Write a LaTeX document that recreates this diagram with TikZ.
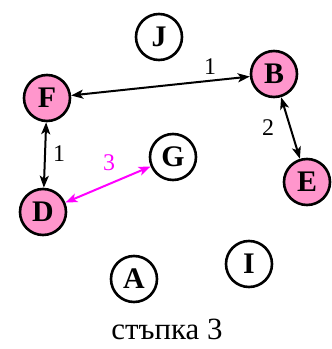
\documentclass[tikz,border=0pt]{standalone}
\usepackage{fontspec}
\setmainfont{Liberation Serif}
\usetikzlibrary{arrows.meta}
\definecolor{nodepink}{RGB}{255,150,204}
\definecolor{magentaedge}{RGB}{255,0,255}
\tikzset{
  vertex/.style={circle, draw=black, line width=2.6bp, minimum size=46bp, inner sep=0pt,
    font=\fontsize{30}{30}\selectfont\bfseries},
  visited/.style={vertex, fill=nodepink},
  link/.style={line width=2bp, {Stealth[length=12bp,width=9bp,inset=3bp]}-{Stealth[length=12bp,width=9bp,inset=3bp]}},
  wlabel/.style={font=\fontsize{24}{24}\selectfont, inner sep=1bp},
}
\begin{document}
\begin{tikzpicture}[x=1bp,y=-1bp]
  \useasboundingbox (0,0) rectangle (332,349);
  % vertices
  \node[vertex]  (J) at (159,37) {J};
  \node[visited] (F) at (47,98) {F};
  \node[visited] (B) at (274,74) {B};
  \node[vertex]  (G) at (173,157) {G};
  \node[visited] (E) at (307,182) {E};
  \node[visited] (D) at (43,212) {D};
  \node[vertex]  (A) at (134,279) {A};
  \node[vertex]  (I) at (249,264) {I};
  % edges
  \draw[link] (F) -- (B);
  \draw[link] (F) -- (D);
  \draw[link] (B) -- (E);
  \draw[link, draw=magentaedge, fill=magentaedge] (D) -- (G);
  % edge labels
  \node[wlabel] (l1) at (210,67) {1};
  \node[wlabel] (l2) at (59,154) {1};
  \node[wlabel] (l3) at (268,128) {2};
  \node[wlabel, text=magentaedge] (l4) at (109,163) {3};
  % caption
  \node[font=\fontsize{31}{31}\selectfont] (cap) at (167,329) {стъпка 3};
\end{tikzpicture}
\end{document}
